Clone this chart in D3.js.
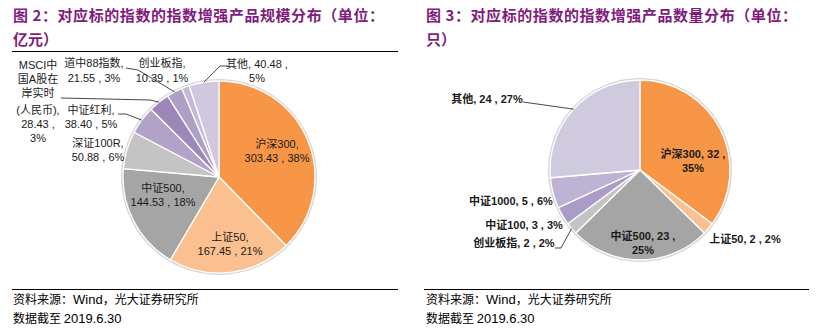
<!DOCTYPE html>
<html>
<head>
<meta charset="utf-8">
<script src="https://cdn.jsdelivr.net/npm/d3@7/dist/d3.min.js"></script>
<style>
  html, body { margin: 0; padding: 0; background: #fff; }
  svg { display: block; }
  .cjk { font-family: "Noto Sans CJK SC", "Noto Sans", sans-serif; }
  .lbl { font-family: "Liberation Sans", "Noto Sans CJK SC", sans-serif; }
</style>
</head>
<body>
<script>
// ---- Figure 2: scale (亿元) by underlying index ----
const scaleNames  = ["沪深300", "上证50", "中证500", "深证100R", "中证红利", "MSCI中国A股在岸实时(人民币)", "道中88指数", "创业板指", "其他"];
const scaleValues = [303.43, 167.45, 144.53, 50.88, 38.40, 28.43, 21.55, 10.39, 40.48];
const scalePcts   = ["38%", "21%", "18%", "6%", "5%", "3%", "3%", "1%", "5%"];
const scaleColors = ["#F79646", "#FAC090", "#A5A5A5", "#C4C4C4", "#B3A2C7", "#9C87B8", "#ADA0C4", "#C5BAD6", "#D0C8DE"];

// ---- Figure 3: number of products by underlying index ----
const countNames  = ["沪深300", "上证50", "中证500", "创业板指", "中证100", "中证1000", "其他"];
const countValues = [32, 2, 23, 2, 3, 5, 24];
const countPcts   = ["35%", "2%", "25%", "2%", "3%", "6%", "27%"];
const countColors = ["#F79646", "#FAC090", "#A5A5A5", "#C4C4C4", "#AA9BC8", "#BEB3D5", "#D0CADE"];

const titles = [
  ["图 2：对应标的指数的指数增强产品规模分布（单位：", "亿元）"],
  ["图 3：对应标的指数的指数增强产品数量分布（单位：", "只）"]
];
const sourceLine = ["资料来源：", "Wind", "，光大证券研究所"];
const dateLine   = ["数据截至 ", "2019.6.30"];

const W = 822, H = 331;
const svg = d3.select("body").append("svg").attr("width", W).attr("height", H);

// Label layout: anchor x, baseline of each line, optional leader start points
const twoLine = d => [d.name + ",", d.value.toFixed(2) + " , " + d.pct];
const scaleLabelLayout = {
  "沪深300":  { x: 277, y: [148, 162], lines: twoLine },
  "上证50":   { x: 230, y: [241, 255], lines: twoLine },
  "中证500":  { x: 163, y: [192, 206], lines: twoLine },
  "深证100R": { x: 98,  y: [147, 161], lines: twoLine },
  "中证红利": { x: 91,  y: [114, 128], lines: twoLine, leader: [[118, 114], [126, 114]] },
  "MSCI中国A股在岸实时(人民币)": { x: 38, y: [69, 83, 97, 114, 128, 142],
                lines: d => ["MSCI中", "国A股在", "岸实时", "(人民币),", d.value.toFixed(2) + " ,", d.pct], leader: [[61, 98], [150, 100]] },
  "道中88指数": { x: 94, y: [67, 82], lines: twoLine, leader: [[126, 68], [138, 70]] },
  "创业板指": { x: 162, y: [67, 82], lines: twoLine },
  "其他":     { x: 257, y: [68, 82], lines: d => [d.name + ", " + d.value.toFixed(2) + " ,", d.pct], leader: [[228, 66], [220, 66]] }
};

const countLabelLayout = {
  "沪深300":  { x: 693, y: [158, 172], lines: d => [d.name + ", " + d.value + " ,", d.pct] },
  "上证50":   { x: 745, y: [243], lines: d => [d.name + ", " + d.value + " , " + d.pct] },
  "中证500":  { x: 643, y: [240, 254], lines: d => [d.name + ", " + d.value + " ,", d.pct] },
  "创业板指": { x: 514, y: [247], lines: d => [d.name + ", " + d.value + " , " + d.pct], leader: [[555, 248], [561, 248]] },
  "中证100":  { x: 524, y: [229], lines: d => [d.name + ", " + d.value + " , " + d.pct] },
  "中证1000": { x: 511, y: [205], lines: d => [d.name + ", " + d.value + " , " + d.pct] },
  "其他":     { x: 487, y: [103], lines: d => [d.name + ", " + d.value + " , " + d.pct], leader: [[523, 102]] }
};

function drawPie(cfg) {
  const data = cfg.names.map((n, i) => ({ name: n, value: cfg.values[i], pct: cfg.pcts[i], color: cfg.colors[i] }));
  const pie = d3.pie().value(d => d.value).sort(null).startAngle(0).endAngle(2 * Math.PI);
  const arcs = pie(data);
  const arc = d3.arc().innerRadius(0).outerRadius(cfg.r);
  const edge = d3.arc().innerRadius(cfg.r).outerRadius(cfg.r);
  const g = svg.append("g").attr("transform", `translate(${cfg.cx},${cfg.cy})`);

  // soft outer rim
  g.append("circle").attr("r", cfg.r + 1).attr("fill", "none")
    .attr("stroke", "#D6D6D6").attr("stroke-width", 2);

  g.selectAll("path.slice").data(arcs).join("path")
    .attr("class", "slice")
    .attr("d", arc)
    .attr("fill", d => d.data.color)
    .attr("stroke", "#fff")
    .attr("stroke-width", 1.3)
    .attr("stroke-linejoin", "round");

  // leader lines to the slice edge
  arcs.forEach(a => {
    const lay = cfg.layout[a.data.name];
    if (!lay.leader) return;
    const c = edge.centroid(a);
    const pts = lay.leader.concat([[c[0] + cfg.cx, c[1] + cfg.cy]]);
    svg.append("path")
      .attr("d", d3.line()(pts))
      .attr("fill", "none")
      .attr("stroke", "#333")
      .attr("stroke-width", 0.9);
  });

  // labels: one text block per slice, one tspan per line
  arcs.forEach(a => {
    const lay = cfg.layout[a.data.name];
    const lines = lay.lines(a.data);
    const t = svg.append("text")
      .attr("class", "lbl")
      .attr("text-anchor", "middle")
      .attr("font-size", 11)
      .attr("font-weight", cfg.weight)
      .attr("fill", "#1a1a1a");
    lines.forEach((s, i) => {
      t.append("tspan").attr("x", lay.x).attr("y", lay.y[i]).text(s);
    });
  });
}

drawPie({ names: scaleNames, values: scaleValues, pcts: scalePcts, colors: scaleColors,
          cx: 219, cy: 177, r: 96, layout: scaleLabelLayout, weight: 400 });
drawPie({ names: countNames, values: countValues, pcts: countPcts, colors: countColors,
          cx: 640, cy: 170, r: 90, layout: countLabelLayout, weight: 700 });

// Panel titles, rules and source notes
const panels = [
  { x: 13, rule: [12, 398], topRule: true },
  { x: 426, rule: [424, 809], topRule: false }
];

panels.forEach((p, k) => {
  const t = titles[k];
  svg.append("text").attr("class", "cjk")
    .attr("x", p.x).attr("y", 21)
    .attr("font-size", 15).attr("font-weight", 700).attr("fill", "#7F1C7D")
    .attr("textLength", 371).attr("lengthAdjust", "spacing")
    .text(t[0]);
  svg.append("text").attr("class", "cjk")
    .attr("x", p.x).attr("y", 45)
    .attr("font-size", 15).attr("font-weight", 700).attr("fill", "#7F1C7D")
    .text(t[1]);

  if (p.topRule) {
    svg.append("line").attr("x1", p.rule[0]).attr("x2", p.rule[1])
      .attr("y1", 51.5).attr("y2", 51.5).attr("stroke", "#000").attr("stroke-width", 1);
  }
  svg.append("line").attr("x1", p.rule[0]).attr("x2", p.rule[1])
    .attr("y1", 289.5).attr("y2", 289.5).attr("stroke", "#000").attr("stroke-width", 1);

  const s = svg.append("text").attr("x", p.x).attr("y", 304).attr("font-size", 12).attr("fill", "#000");
  s.append("tspan").attr("class", "cjk").text(sourceLine[0]);
  s.append("tspan").attr("font-family", "Liberation Sans, Arial, sans-serif").attr("font-size", 13).text(sourceLine[1]);
  s.append("tspan").attr("class", "cjk").text(sourceLine[2]);

  const dt = svg.append("text").attr("x", p.x).attr("y", 323).attr("font-size", 12).attr("fill", "#000");
  dt.append("tspan").attr("class", "cjk").text(dateLine[0]);
  dt.append("tspan").attr("font-family", "Liberation Sans, Arial, sans-serif").attr("font-size", 13).text(dateLine[1]);
});
</script>
</body>
</html>
